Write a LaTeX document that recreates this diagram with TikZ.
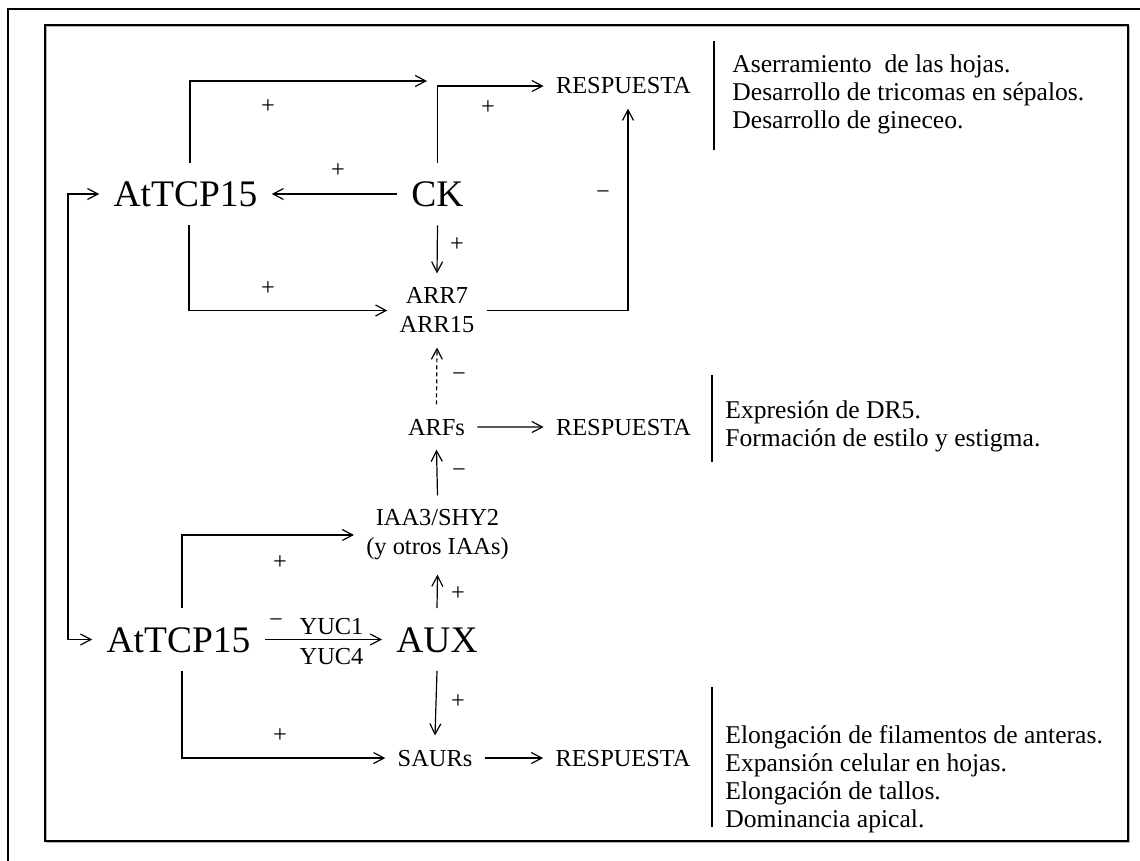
\documentclass[tikz,border=0pt]{standalone}
\usepackage{fontspec}
\setmainfont{Liberation Serif}
\usetikzlibrary{arrows.meta}
\begin{document}
\begin{tikzpicture}[x=0.5pt,y=-0.5pt,
  big/.style={font=\fontsize{18.75}{22}\selectfont, inner xsep=7pt, inner ysep=9pt, text height=13pt, text depth=0pt},
  sm/.style={font=\fontsize{12.2}{14.5}\selectfont, inner xsep=6pt, inner ysep=7pt, align=center},
  lbl/.style={font=\fontsize{12.2}{14.5}\selectfont, inner sep=0pt},
  note/.style={font=\fontsize{12.8}{14}\selectfont, inner sep=0pt, align=left, anchor=north west},
  tip/.tip={Straight Barb[length=5.25pt,width=5.5pt]},
  arr/.style={-tip, line width=0.6pt},
  dbl/.style={tip-tip, line width=0.6pt},
  bar/.style={line width=0.55pt},
]
\useasboundingbox (0,0) rectangle (1140,861);
% frames
\draw[line width=1.35pt] (8,861) -- (8,9) -- (1140,9);
\draw[gray!60, line width=0.6pt] (46.5,26.5) rectangle (1129.5,842.5);
\draw[line width=0.6pt] (45,25) rectangle (1128,841);

% nodes
\node[big, anchor=base] (at1) at (185.5,207) {AtTCP15};
\node[big, anchor=base] (ck) at (437.5,207) {CK};
\node[sm, anchor=base] (resp1) at (623.5,94) {RESPUESTA};
\node[sm] (arr) at (437,310.5) {ARR7\\ARR15};
\node[sm, anchor=base] (arfs) at (436.5,435) {ARFs};
\node[sm, anchor=base] (resp2) at (623.5,435) {RESPUESTA};
\node[sm] (iaa) at (437.5,535) {IAA3/SHY2\\(y otros IAAs)};
\node[big, anchor=base] (at2) at (178.5,652.5) {AtTCP15};
\node[big, anchor=base] (aux) at (437,652.5) {AUX};
\node[sm, anchor=base] (saurs) at (435,766) {SAURs};
\node[sm, anchor=base] (resp3) at (623,766) {RESPUESTA};
\coordinate (c1) at (427,81);
\coordinate (fb) at (68,400);

% connectors
\draw[arr] ([xshift=2.25pt]at1.north) |- (c1);
\draw[arr] (ck.north) |- (resp1.west);
\draw[arr] (ck.west) -- (at1.east);
\draw[arr] (ck.south) -- (arr.north);
\draw[arr] ([xshift=1.75pt]at1.south) |- (arr.west);
\draw[arr] (arr.east) -| ([xshift=2.25pt]resp1.south);
\draw[arr, dash pattern=on 2pt off 1.5pt] (arfs.north) -- (arr.south);
\draw[arr] (arfs.east) -- (resp2.west);
\draw[arr] (iaa.north) -- (arfs.south);
\draw[arr] (aux.north) -- (iaa.south);
\draw[arr] ([xshift=1.75pt]at2.north) |- (iaa.west);
\draw[arr] (at2.east) -- (aux.west);
\draw[arr] (aux.south) -- (saurs.north);
\draw[arr] ([xshift=1.75pt]at2.south) |- (saurs.west);
\draw[arr] (saurs.east) -- (resp3.west);
\draw[dbl] (at1.west) -- (at1.west -| fb) -- (at2.west -| fb) -- (at2.west);

% signs
\node[lbl] (p1) at (268,107) {+};
\node[lbl] (p2) at (338,171) {+};
\node[lbl] (p3) at (488,108) {+};
\node[lbl] (m1) at (603,195) {−};
\node[lbl] (p4) at (457,245) {+};
\node[lbl] (p5) at (268,289) {+};
\node[lbl] (m2) at (459,377) {−};
\node[lbl] (m3) at (459,473) {−};
\node[lbl] (p6) at (280,563) {+};
\node[lbl] (p7) at (458,594) {+};
\node[lbl] (m4) at (276,623) {−};
\node[lbl] (p8) at (458,702) {+};
\node[lbl] (p9) at (280,736) {+};
\node[lbl] (y1) at (331.5,627) {YUC1};
\node[lbl] (y4) at (331.5,657) {YUC4};

% side notes
\draw[bar] (714,41) -- (714,150);
\draw[bar] (712,375) -- (712,462);
\draw[bar] (712,687) -- (712,827);
\node[note] (n1) at (732,54) {Aserramiento\ \ de las hojas.\\Desarrollo de tricomas en sépalos.\\Desarrollo de gineceo.};
\node[note] (n2) at (725,400) {Expresión de DR5.\\Formación de estilo y estigma.};
\node[note] (n3) at (725,725) {Elongación de filamentos de anteras.\\Expansión celular en hojas.\\Elongación de tallos.\\Dominancia apical.};
\end{tikzpicture}
\end{document}
